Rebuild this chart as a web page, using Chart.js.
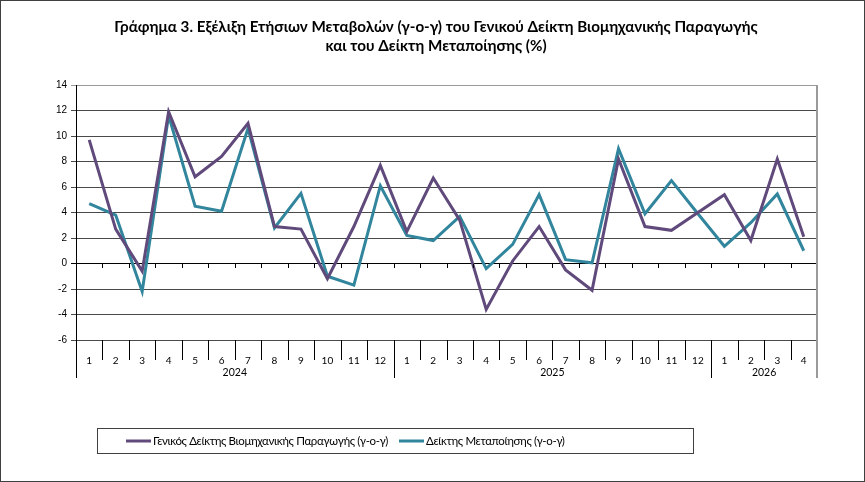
<!DOCTYPE html>
<html>
<head>
<meta charset="utf-8">
<script src="https://cdn.jsdelivr.net/npm/chart.js@4/dist/chart.umd.min.js"></script>
<style>
html,body{margin:0;padding:0;background:#fff;}
#wrap{width:865px;height:482px;position:relative;}
</style>
</head>
<body>
<div id="wrap"><canvas id="c" width="865" height="482"></canvas></div>
<script>
const titleLines = ['Γράφημα 3. Εξέλιξη Ετήσιων Μεταβολών (γ-ο-γ) του Γενικού Δείκτη Βιομηχανικής Παραγωγής','και του Δείκτη Μεταποίησης (%)'];
const monthLabels = ['1','2','3','4','5','6','7','8','9','10','11','12','1','2','3','4','5','6','7','8','9','10','11','12','1','2','3','4'];
const yearLabels = ['2024','2025','2026'];
const yearSpans = [12,12,4];
const seriesNames = ['Γενικός Δείκτης Βιομηχανικής Παραγωγής (γ-ο-γ)','Δείκτης Μεταποίησης (γ-ο-γ)'];
const generalIndex = [9.7,2.7,-0.6,11.9,6.8,8.4,11.0,2.9,2.7,-1.2,2.9,7.7, 2.5,6.7,3.4,-3.6,0.2,2.9,-0.5,-2.1,8.2,2.9,2.6,4.0, 5.4,1.8,8.2,2.1];
const manufacturing = [4.7,3.8,-2.2,11.6,4.5,4.1,10.6,2.8,5.5,-1.0,-1.7,6.1, 2.2,1.8,3.7,-0.4,1.5,5.4,0.3,0.05,9.0,3.9,6.5,3.9, 1.35,3.2,5.45,1.0];
const yTicks = {min:-6,max:14,step:2};
const colors = ['#604A7B','#31859C'];

const decor = {
  id:'decor',
  afterDraw(chart){
    const ctx = chart.ctx, ca = chart.chartArea, xs = chart.scales.x, ys = chart.scales.y;
    ctx.save();
    ctx.strokeStyle='#404040'; ctx.lineWidth=1;
    ctx.strokeRect(0.5,0.5,864,481);
    ctx.fillStyle='#000'; ctx.textAlign='center'; ctx.textBaseline='middle';
    ctx.font='bold 15.2px Lato';
    ctx.fillText(titleLines[0],436,27);
    ctx.fillText(titleLines[1],436,46);
    const bottom2 = ca.bottom+38;
    const half = (xs.getPixelForValue(1)-xs.getPixelForValue(0))/2;
    ctx.strokeStyle='#000'; ctx.lineWidth=1;
    ctx.beginPath();
    for(let i=1;i<monthLabels.length;i++){
      const x=Math.round(xs.getPixelForValue(i)-half)+0.5;
      ctx.moveTo(x,ca.bottom); ctx.lineTo(x,ca.bottom+20);
      const z=Math.round(ys.getPixelForValue(0));
      ctx.moveTo(x,z); ctx.lineTo(x,z+4);
    }
    ctx.stroke();
    let start=0;
    ctx.font='10.5px Lato'; ctx.fillStyle='#000';
    ctx.beginPath();
    const xl=Math.round(ca.left)+0.5;
    ctx.moveTo(xl,ca.bottom); ctx.lineTo(xl,bottom2);
    for(let k=0;k<yearSpans.length;k++){
      const end=start+yearSpans[k]-1;
      const x0=xs.getPixelForValue(start)-half, x1=xs.getPixelForValue(end)+half;
      ctx.fillText(yearLabels[k],(x0+x1)/2,ca.bottom+33);
      if(k<yearSpans.length-1){const x=Math.round(x1)+0.5; ctx.moveTo(x,ca.bottom); ctx.lineTo(x,bottom2);}
      start=end+1;
    }
    ctx.stroke();
    ctx.strokeStyle='#9a9a9a'; ctx.lineWidth=2;
    ctx.beginPath(); ctx.moveTo(ca.right,ca.top); ctx.lineTo(ca.right,bottom2); ctx.stroke();
    ctx.strokeStyle='#404040'; ctx.lineWidth=1;
    ctx.strokeRect(97.5,428.5,596,25);
    const lx=[126,399];
    ctx.font='11.5px Lato'; ctx.textAlign='left'; ctx.textBaseline='middle';
    ctx.letterSpacing='-0.35px';
    chart.data.datasets.forEach((d,i)=>{
      ctx.strokeStyle=d.borderColor; ctx.lineWidth=3;
      ctx.beginPath(); ctx.moveTo(lx[i],441); ctx.lineTo(lx[i]+25,441); ctx.stroke();
      ctx.fillStyle='#000'; ctx.fillText(d.label,lx[i]+27,441);
    });
    ctx.restore();
  }
};

new Chart(document.getElementById('c'),{
  type:'line',
  data:{labels:monthLabels,datasets:[
    {label:seriesNames[0],data:generalIndex,borderColor:colors[0],backgroundColor:colors[0],borderWidth:3,pointRadius:0,tension:0},
    {label:seriesNames[1],data:manufacturing,borderColor:colors[1],backgroundColor:colors[1],borderWidth:3,pointRadius:0,tension:0}
  ]},
  options:{
    responsive:false,animation:false,
    layout:{padding:{top:85,right:48,bottom:102,left:0}},
    plugins:{legend:{display:false},title:{display:false},tooltip:{enabled:false}},
    scales:{
      x:{type:'category',offset:true,
        grid:{display:false},
        border:{display:false},
        ticks:{font:{family:'Lato',size:10},color:'#000',padding:7,maxRotation:0,autoSkip:false},
        afterFit(s){s.height=40;}
      },
      y:{min:yTicks.min,max:yTicks.max,
        ticks:{stepSize:yTicks.step,font:{family:'Liberation Sans',size:10},color:'#000',padding:4},
        grid:{color:(c)=>c.tick.value===0?'#000':(c.tick.value===yTicks.max?'#9a9a9a':'#4a4a4a'),lineWidth:1,tickLength:5},
        border:{color:'#000',width:1},
        afterFit(s){s.width=76;}
      }
    }
  },
  plugins:[decor]
});
</script>
</body>
</html>
